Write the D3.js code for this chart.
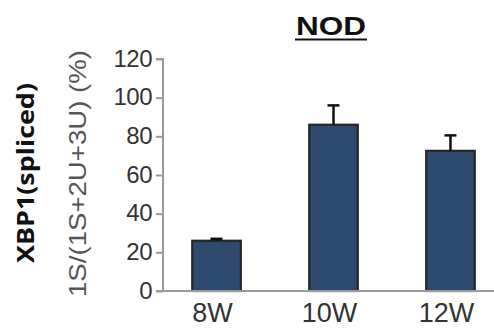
<!DOCTYPE html>
<html><head><meta charset="utf-8">
<script src="https://cdn.jsdelivr.net/npm/d3@7"></script>
<style>html,body{margin:0;padding:0;background:#fff;}svg{display:block;}</style>
</head><body>
<script>
const categories = ["8W", "10W", "12W"];
const values = [26, 86, 72.5];
const errors = [1, 10, 8];
const yTicks = [0, 20, 40, 60, 80, 100, 120];
const title = "NOD";
const yLabelMain = "XBP1(spliced)";
const yLabelSub = "1S/(1S+2U+3U) (%)";

const W = 494, H = 328;
const svg = d3.select("body").append("svg").attr("width", W).attr("height", H);

const y = d3.scaleLinear().domain([0, 120]).range([291, 59]);
const x = d3.scaleBand().domain(categories).range([163, 504]).paddingInner(0.585).paddingOuter(0.25);

// bars
svg.selectAll("rect.bar").data(values).enter().append("rect")
  .attr("x", (d, i) => x(categories[i]))
  .attr("y", d => y(d))
  .attr("width", x.bandwidth())
  .attr("height", d => y(0) - y(d))
  .attr("fill", "#2f4a6f").attr("stroke", "#262626").attr("stroke-width", 2.2);

// error bars
const eb = svg.append("g").attr("stroke", "#111").attr("stroke-width", 2.5);
values.forEach((v, i) => {
  const cx = x(categories[i]) + x.bandwidth() / 2;
  eb.append("line").attr("x1", cx).attr("x2", cx).attr("y1", y(v)).attr("y2", y(v + errors[i]));
  eb.append("line").attr("x1", cx - 6).attr("x2", cx + 6).attr("y1", y(v + errors[i])).attr("y2", y(v + errors[i]));
});

// y axis
const yAxis = svg.append("g").attr("transform", "translate(163,0)")
  .call(d3.axisLeft(y).tickValues(yTicks).tickSize(7).tickPadding(4));
yAxis.select(".domain").attr("stroke", "#9a9a9a").attr("stroke-width", 2).attr("d", `M-7,${y(120)}H0V${y(0)}`);
yAxis.selectAll(".tick line").attr("stroke", "#9a9a9a").attr("stroke-width", 2);
yAxis.selectAll(".tick text").attr("fill", "#333").style("font-family", "Liberation Sans, Arial, sans-serif").style("font-size", "24px").attr("dy", "0.3em").style("letter-spacing", "-0.5px");

// x axis
const xAxis = svg.append("g").attr("transform", `translate(0,${y(0)})`)
  .call(d3.axisBottom(x).tickSize(0));
xAxis.select(".domain").attr("stroke", "#9a9a9a").attr("stroke-width", 2).attr("d", `M156,0H494`);
xAxis.selectAll(".tick text").attr("fill", "#333").style("font-family", "Liberation Sans, Arial, sans-serif").style("font-size", "27px").attr("y", 31).attr("dy", 0).attr("dx", -4);

// title
svg.append("text").attr("x", 331).attr("y", 35).attr("text-anchor", "middle")
  .attr("textLength", 70).attr("lengthAdjust", "spacingAndGlyphs")
  .style("font-family", "Liberation Sans, Arial, sans-serif").style("font-weight", "bold").style("font-size", "25px")
  .attr("fill", "#111").text(title);
svg.append("line").attr("x1", 295).attr("x2", 367).attr("y1", 39.5).attr("y2", 39.5).attr("stroke", "#111").attr("stroke-width", 2);

// y labels
svg.append("text").attr("transform", "translate(34,173) rotate(-90)").attr("text-anchor", "middle")
  .attr("textLength", 180).attr("lengthAdjust", "spacingAndGlyphs")
  .style("font-family", "Open Sans, Liberation Sans, sans-serif").style("font-weight", "bold").style("font-size", "24px")
  .attr("fill", "#111").text(yLabelMain);
svg.append("text").attr("transform", "translate(86,173.5) rotate(-90)").attr("text-anchor", "middle")
  .attr("textLength", 247).attr("lengthAdjust", "spacingAndGlyphs")
  .style("font-family", "Liberation Sans, Arial, sans-serif").style("font-size", "24px")
  .attr("fill", "#555").text(yLabelSub);
</script>
</body></html>
